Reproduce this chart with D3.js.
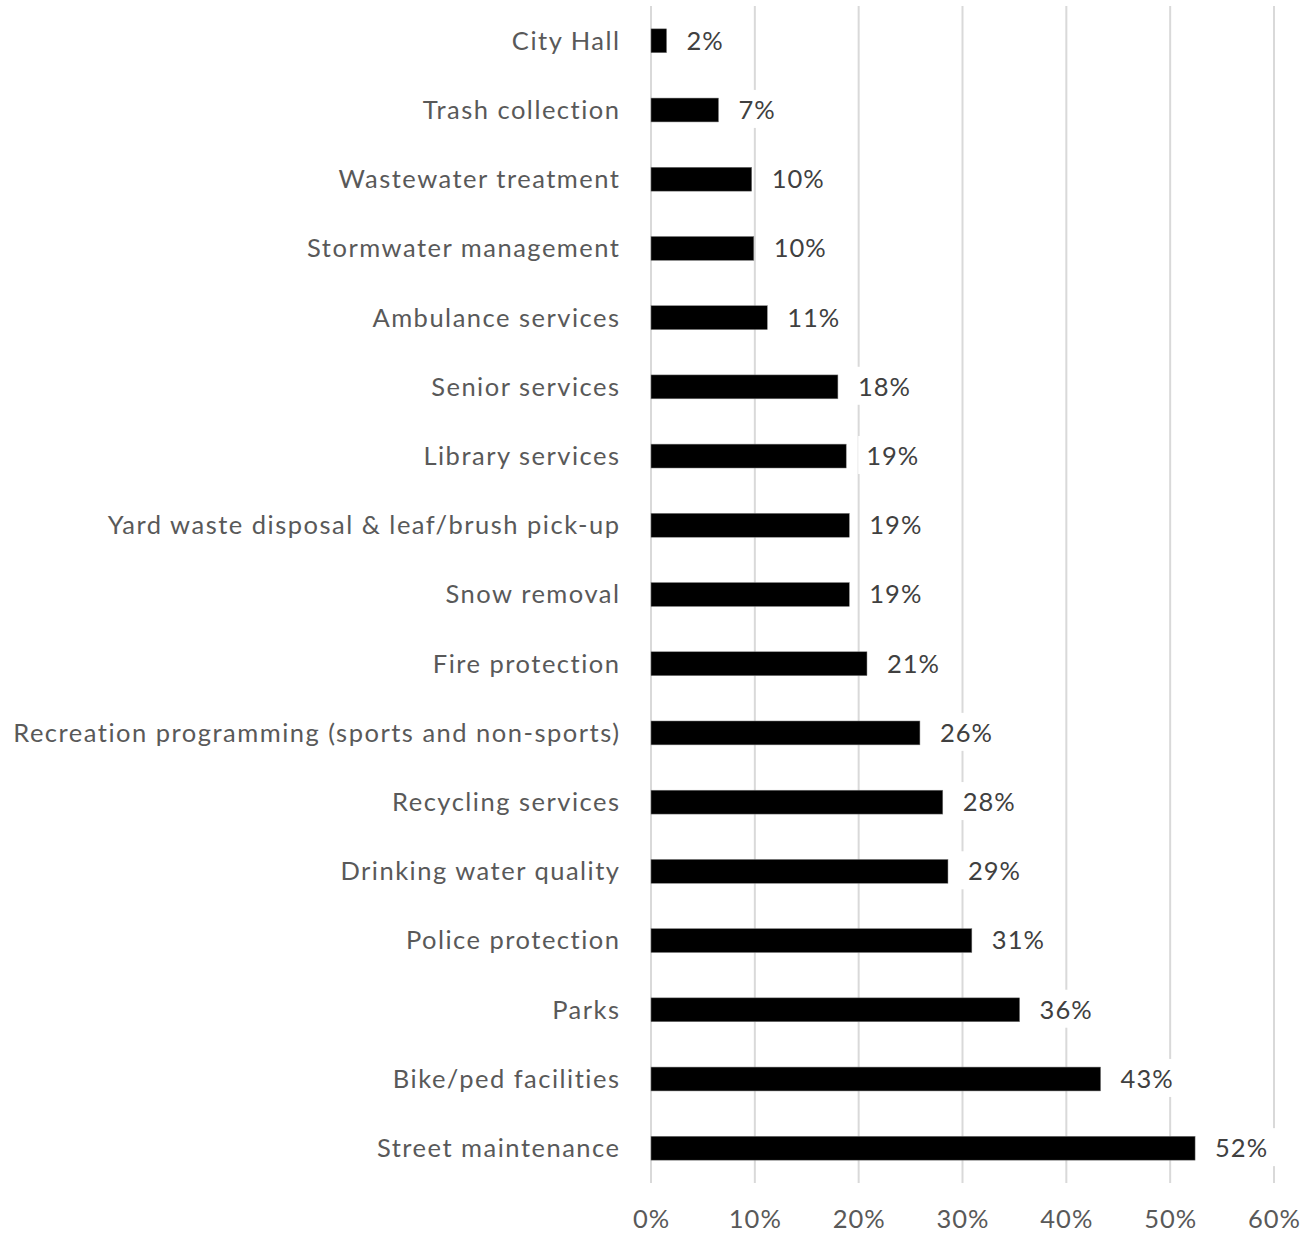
<!DOCTYPE html>
<html><head><meta charset="utf-8">
<script src="https://cdn.jsdelivr.net/npm/d3@7"></script>
<style>
html,body{margin:0;padding:0;background:#fff;}
svg{display:block;}
text{font-family:Lato,"Open Sans",sans-serif;}
</style></head>
<body>
<script>
const categories = ["City Hall","Trash collection","Wastewater treatment","Stormwater management","Ambulance services","Senior services","Library services","Yard waste disposal & leaf/brush pick-up","Snow removal","Fire protection","Recreation programming (sports and non-sports)","Recycling services","Drinking water quality","Police protection","Parks","Bike/ped facilities","Street maintenance"];
const values = [1.5,6.5,9.7,9.9,11.2,18.0,18.8,19.1,19.1,20.8,25.9,28.1,28.6,30.9,35.5,43.3,52.4];
const tickValues = [0,10,20,30,40,50,60];
const tickLabels = ["0%","10%","20%","30%","40%","50%","60%"];

const W=1312,H=1234;
const svg=d3.select("body").append("svg").attr("width",W).attr("height",H);
const x=d3.scaleLinear().domain([0,60]).range([651,1274]);
const y=d3.scaleBand().domain(categories).range([6,1183]).paddingInner(0.655).paddingOuter(0.33);

// gridlines
svg.append("g").selectAll("line").data(tickValues).join("line")
  .attr("x1",d=>x(d)).attr("x2",d=>x(d)).attr("y1",6).attr("y2",1183)
  .attr("stroke","#d9d9d9").attr("stroke-width",2);

// bars
svg.append("g").selectAll("rect").data(values).join("rect")
  .attr("x",x(0)).attr("y",(d,i)=>y(categories[i]))
  .attr("width",d=>x(d)-x(0)).attr("height",y.bandwidth())
  .attr("fill","#000").attr("stroke","#7f7f7f").attr("stroke-width",0.5);

const fs=25.5;
// data labels with white background
const lg=svg.append("g").selectAll("g").data(values).join("g");
lg.append("rect").attr("class","bg").attr("fill","#fff");
lg.append("text").attr("x",d=>x(d)+20).attr("y",(d,i)=>y(categories[i])+y.bandwidth()/2)
  .attr("dy","0.35em").attr("fill","#404040").attr("font-size",fs).attr("letter-spacing",1)
  .text(d=>Math.round(d)+"%");
lg.each(function(){
  const t=d3.select(this).select("text").node().getBBox();
  d3.select(this).select("rect.bg").attr("x",t.x-8).attr("y",t.y-4).attr("width",t.width+16).attr("height",t.height+8);
});

// category labels
svg.append("g").selectAll("text").data(categories).join("text")
  .attr("x",620.5).attr("y",d=>y(d)+y.bandwidth()/2).attr("dy","0.35em")
  .attr("text-anchor","end").attr("fill","#595959").attr("font-size",fs).attr("letter-spacing",1.5).text(d=>d);

// x axis labels
svg.append("g").selectAll("text").data(tickValues).join("text")
  .attr("x",d=>x(d)+0.5).attr("y",1219).attr("dy","0.35em").attr("text-anchor","middle")
  .attr("fill","#595959").attr("font-size",fs).attr("letter-spacing",1).text((d,i)=>tickLabels[i]);
</script>
</body></html>
